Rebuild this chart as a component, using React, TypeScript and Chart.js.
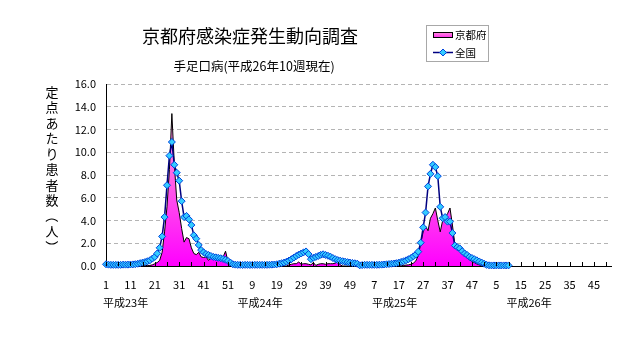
import React, { useEffect, useRef } from 'react';
import { Chart, registerables } from 'chart.js';

Chart.register(...registerables);

const TITLE = '京都府感染症発生動向調査';
const SUBTITLE = '手足口病(平成26年10週現在)';
const Y_TITLE = ['定', '点', 'あ', 'た', 'り', '患', '者', '数', '（', '人', '）'];
const YEAR_LABELS = ['平成23年', '平成24年', '平成25年', '平成26年'];
const WEEKS_PER_YEAR = 52;
const LEGEND_KYOTO = '京都府';
const LEGEND_NATIONAL = '全国';
const Y_MAX = 16;
const Y_STEP = 2;

// 京都府 (定点あたり患者数)
const kyotoH23 = [0, 0, 0, 0, 0, 0, 0, 0, 0, 0, 0, 0, 0, 0, 0.02, 0, 0.03, 0.05, 0.05, 0.1, 0.2, 0.3, 0.5, 1.2, 3.0, 5.2, 8.5, 13.4, 9.0, 5.8, 4.7, 3.3, 2.1, 2.5, 2.4, 1.6, 1.1, 1.0, 1.2, 0.8, 0.75, 0.8, 0.5, 0.7, 0.75, 0.6, 0.65, 0.75, 0.8, 1.3, 0.4, 0.05];
const kyotoH24 = [0, 0, 0, 0, 0, 0, 0, 0, 0, 0, 0, 0, 0, 0, 0, 0, 0, 0, 0, 0, 0, 0, 0, 0.1, 0.15, 0.2, 0.2, 0.35, 0.15, 0.2, 0.2, 0.15, 0.1, 0.3, 0.05, 0.15, 0.2, 0.2, 0.15, 0.2, 0.2, 0.2, 0.25, 0.4, 0.1, 0, 0, 0, 0, 0, 0, 0];
const kyotoH25 = [0, 0, 0, 0, 0, 0, 0, 0, 0, 0, 0, 0, 0, 0, 0, 0, 0, 0.02, 0.05, 0.08, 0.1, 0.15, 0.25, 0.45, 0.9, 2.0, 3.0, 3.5, 3.1, 4.2, 4.6, 5.1, 4.0, 3.0, 4.0, 4.3, 4.6, 5.1, 3.6, 1.9, 1.5, 1.25, 1.05, 0.9, 0.7, 0.55, 0.4, 0.3, 0.18, 0.1, 0.03, 0];
const kyotoH26 = [0, 0, 0, 0, 0, 0, 0, 0, 0, 0];

// 全国
const nationalH23 = [0.15, 0.12, 0.1, 0.1, 0.1, 0.1, 0.1, 0.12, 0.12, 0.12, 0.13, 0.14, 0.16, 0.2, 0.25, 0.3, 0.35, 0.42, 0.5, 0.65, 0.8, 1.1, 1.6, 2.6, 4.3, 7.1, 9.7, 10.9, 8.9, 8.2, 7.5, 5.7, 4.3, 4.4, 4.1, 3.6, 2.7, 2.4, 1.85, 1.4, 1.2, 1.05, 0.97, 0.88, 0.8, 0.76, 0.72, 0.68, 0.62, 0.55, 0.45, 0.3];
const nationalH24 = [0.15, 0.12, 0.1, 0.1, 0.09, 0.1, 0.1, 0.09, 0.1, 0.1, 0.1, 0.1, 0.1, 0.1, 0.1, 0.11, 0.12, 0.13, 0.15, 0.2, 0.25, 0.3, 0.38, 0.48, 0.6, 0.74, 0.88, 1.0, 1.1, 1.2, 1.28, 1.05, 0.6, 0.72, 0.8, 0.88, 0.98, 1.03, 0.97, 0.9, 0.82, 0.7, 0.6, 0.52, 0.47, 0.42, 0.38, 0.34, 0.3, 0.27, 0.24, 0.2];
const nationalH25 = [0.06, 0.08, 0.1, 0.1, 0.1, 0.1, 0.1, 0.1, 0.11, 0.12, 0.13, 0.15, 0.17, 0.2, 0.22, 0.25, 0.3, 0.36, 0.42, 0.5, 0.6, 0.7, 0.85, 1.0, 1.26, 2.05, 3.4, 4.7, 7.0, 8.1, 8.9, 8.7, 7.9, 5.2, 4.2, 4.3, 3.9, 3.9, 2.9, 1.8, 1.65, 1.55, 1.3, 1.1, 0.97, 0.8, 0.7, 0.6, 0.5, 0.4, 0.3, 0.2];
const nationalH26 = [0.1, 0.06, 0.05, 0.05, 0.05, 0.05, 0.05, 0.05, 0.05, 0.05];

const weekLabels: string[] = YEAR_LABELS.flatMap(() =>
  Array.from({ length: WEEKS_PER_YEAR }, (_, k) => String(k + 1))
);
const kyoto = [...kyotoH23, ...kyotoH24, ...kyotoH25, ...kyotoH26];
const national = [...nationalH23, ...nationalH24, ...nationalH25, ...nationalH26];

const FONT = '"Noto Sans CJK JP", "Noto Sans", sans-serif';

const decorPlugin = {
  id: 'decor',
  afterDraw(chart: any) {
    const { ctx, chartArea: a, scales } = chart;
    const xs = scales.x;
    ctx.save();
    // minor x ticks (inside, every 5 weeks)
    ctx.strokeStyle = '#000';
    ctx.lineWidth = 1;
    for (let i = 0; i < weekLabels.length; i += 5) {
      const x = Math.round(xs.getPixelForValue(i)) + 0.5;
      ctx.beginPath();
      ctx.moveTo(x, a.bottom);
      ctx.lineTo(x, a.bottom - 4);
      ctx.stroke();
    }
    ctx.fillStyle = '#000';
    // title
    ctx.textAlign = 'center';
    ctx.textBaseline = 'middle';
    ctx.font = `18px ${FONT}`;
    ctx.fillText(TITLE, 250, 36);
    ctx.font = `12.5px ${FONT}`;
    ctx.fillText(SUBTITLE, 254, 66);
    // y title (vertical)
    ctx.font = `13px ${FONT}`;
    Y_TITLE.forEach((ch, k) => {
      const y = 92 + k * 15.5;
      if (ch === '（' || ch === '）') {
        ctx.save();
        ctx.translate(52, y);
        ctx.rotate(Math.PI / 2);
        ctx.fillText(ch, 0, 0);
        ctx.restore();
      } else {
        ctx.fillText(ch, 52, y);
      }
    });
    // year labels
    ctx.textAlign = 'left';
    ctx.font = `11px ${FONT}`;
    YEAR_LABELS.forEach((t, k) => {
      ctx.fillText(t, a.left - 3 + k * 134.5, 303);
    });
    // legend
    ctx.strokeStyle = '#a8a8a8';
    ctx.strokeRect(426.5, 25.5, 62, 36);
    const g = ctx.createLinearGradient(0, 32, 0, 38);
    g.addColorStop(0, '#ff99dd');
    g.addColorStop(1, '#ff22ee');
    ctx.fillStyle = g;
    ctx.fillRect(433, 32, 20, 6);
    ctx.strokeStyle = '#000';
    ctx.strokeRect(433.5, 32.5, 19, 5);
    ctx.strokeStyle = '#000080';
    ctx.lineWidth = 1.5;
    ctx.beginPath();
    ctx.moveTo(433, 52.5);
    ctx.lineTo(453, 52.5);
    ctx.stroke();
    ctx.fillStyle = '#33ccff';
    ctx.strokeStyle = '#0044dd';
    ctx.lineWidth = 1;
    ctx.beginPath();
    ctx.moveTo(443, 49);
    ctx.lineTo(446.5, 52.5);
    ctx.lineTo(443, 56);
    ctx.lineTo(439.5, 52.5);
    ctx.closePath();
    ctx.fill();
    ctx.stroke();
    ctx.fillStyle = '#000';
    ctx.font = `10.5px ${FONT}`;
    ctx.textBaseline = 'middle';
    ctx.fillText(LEGEND_KYOTO, 455, 35);
    ctx.fillText(LEGEND_NATIONAL, 455, 53);
    ctx.restore();
  },
};

export default function App() {
  const ref = useRef<HTMLCanvasElement | null>(null);
  useEffect(() => {
    if (!ref.current) return;
    const chart = new Chart(ref.current, {
      type: 'line',
      data: {
        labels: weekLabels,
        datasets: [
          {
            label: LEGEND_NATIONAL,
            data: national,
            borderColor: '#000080',
            borderWidth: 1.5,
            pointStyle: 'rectRot',
            pointRadius: 3.5,
            pointBackgroundColor: '#33ccff',
            pointBorderColor: '#0044dd',
            pointBorderWidth: 1,
            fill: false,
            tension: 0,
            order: 0,
            clip: 10,
          } as any,
          {
            label: LEGEND_KYOTO,
            data: kyoto,
            borderColor: '#000',
            borderWidth: 1,
            pointRadius: 0,
            fill: 'origin',
            tension: 0,
            order: 1,
            backgroundColor: (c: any) => {
              const a = c.chart.chartArea;
              if (!a) return '#ff66dd';
              const g = c.chart.ctx.createLinearGradient(0, a.top, 0, a.bottom);
              g.addColorStop(0, '#ffb0e4');
              g.addColorStop(0.5, '#ff66e6');
              g.addColorStop(1, '#ff00ff');
              return g;
            },
          } as any,
        ],
      },
      options: {
        animation: false,
        responsive: false,
        devicePixelRatio: 1,
        layout: { padding: { left: 66, right: 21, top: 84, bottom: 52 } },
        plugins: {
          legend: { display: false },
          title: { display: false },
          tooltip: { enabled: false },
        },
        scales: {
          x: {
            type: 'category',
            offset: false,
            grid: { display: false, drawTicks: false },
            border: { display: true, color: '#000', width: 1 },
            ticks: {
              autoSkip: false,
              maxRotation: 0,
              minRotation: 0,
              padding: 12,
              color: '#000',
              font: { family: FONT, size: 11 },
              callback: (_v: any, idx: number) => (idx % 10 === 0 ? weekLabels[idx] : ''),
            },
            afterFit: (s: any) => {
              s.height = 30;
            },
          },
          y: {
            min: 0,
            max: Y_MAX,
            grid: {
              drawTicks: false,
              color: (c: any) => (c.tick && c.tick.value === 0 ? 'rgba(0,0,0,0)' : '#b4b4b4'),
              lineWidth: 1,
            },
            border: { display: true, color: '#000', width: 1, dash: [4, 3] },
            ticks: {
              stepSize: Y_STEP,
              padding: 10,
              color: '#000',
              font: { family: FONT, size: 11 },
              callback: (v: any) => Number(v).toFixed(1),
            },
            afterFit: (s: any) => {
              s.width = 40;
            },
          },
        },
      },
      plugins: [decorPlugin],
    });
    return () => chart.destroy();
  }, []);
  return (
    <div style={{ position: 'absolute', left: 0, top: 0, width: 632, height: 348, background: '#fff' }}>
      <canvas ref={ref} width={632} height={348} style={{ width: 632, height: 348 }} />
    </div>
  );
}
